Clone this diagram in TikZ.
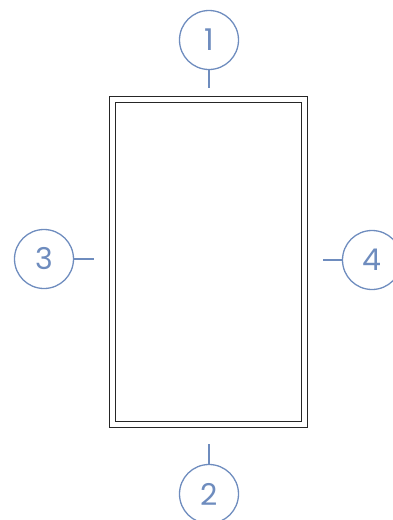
\documentclass[tikz,border=0pt]{standalone}
\usepackage{fontspec}
\setmainfont{Poppins}
\definecolor{callout}{RGB}{110,140,190}
\begin{document}
\begin{tikzpicture}[x=1pt,y=-1pt,
  bubble/.style={circle,draw=callout,line width=1.3pt,minimum size=59pt,inner sep=0pt,text=callout,font=\fontsize{30}{30}\selectfont},
  lead/.style={draw=callout,line width=1.4pt},
  frame/.style={draw=black!85,line width=1pt}]
\useasboundingbox (0,0) rectangle (393,520);
\draw[frame] (109.5,96.5) rectangle (307.5,427.5);
\draw[frame] (115,102) rectangle (301.5,421.5);
\node[bubble] (c1) at (209,40) {1};
\node[bubble] (c2) at (209,494) {2};
\node[bubble] (c3) at (44,259) {3};
\node[bubble] (c4) at (372,260) {4};
\coordinate (e1) at (209,88);
\coordinate (e2) at (209,444);
\coordinate (e3) at (94,259);
\coordinate (e4) at (323,260);
\draw[lead] (c1.south) -- (e1);
\draw[lead] (c2.north) -- (e2);
\draw[lead] (c3.east) -- (e3);
\draw[lead] (c4.west) -- (e4);
\end{tikzpicture}
\end{document}
